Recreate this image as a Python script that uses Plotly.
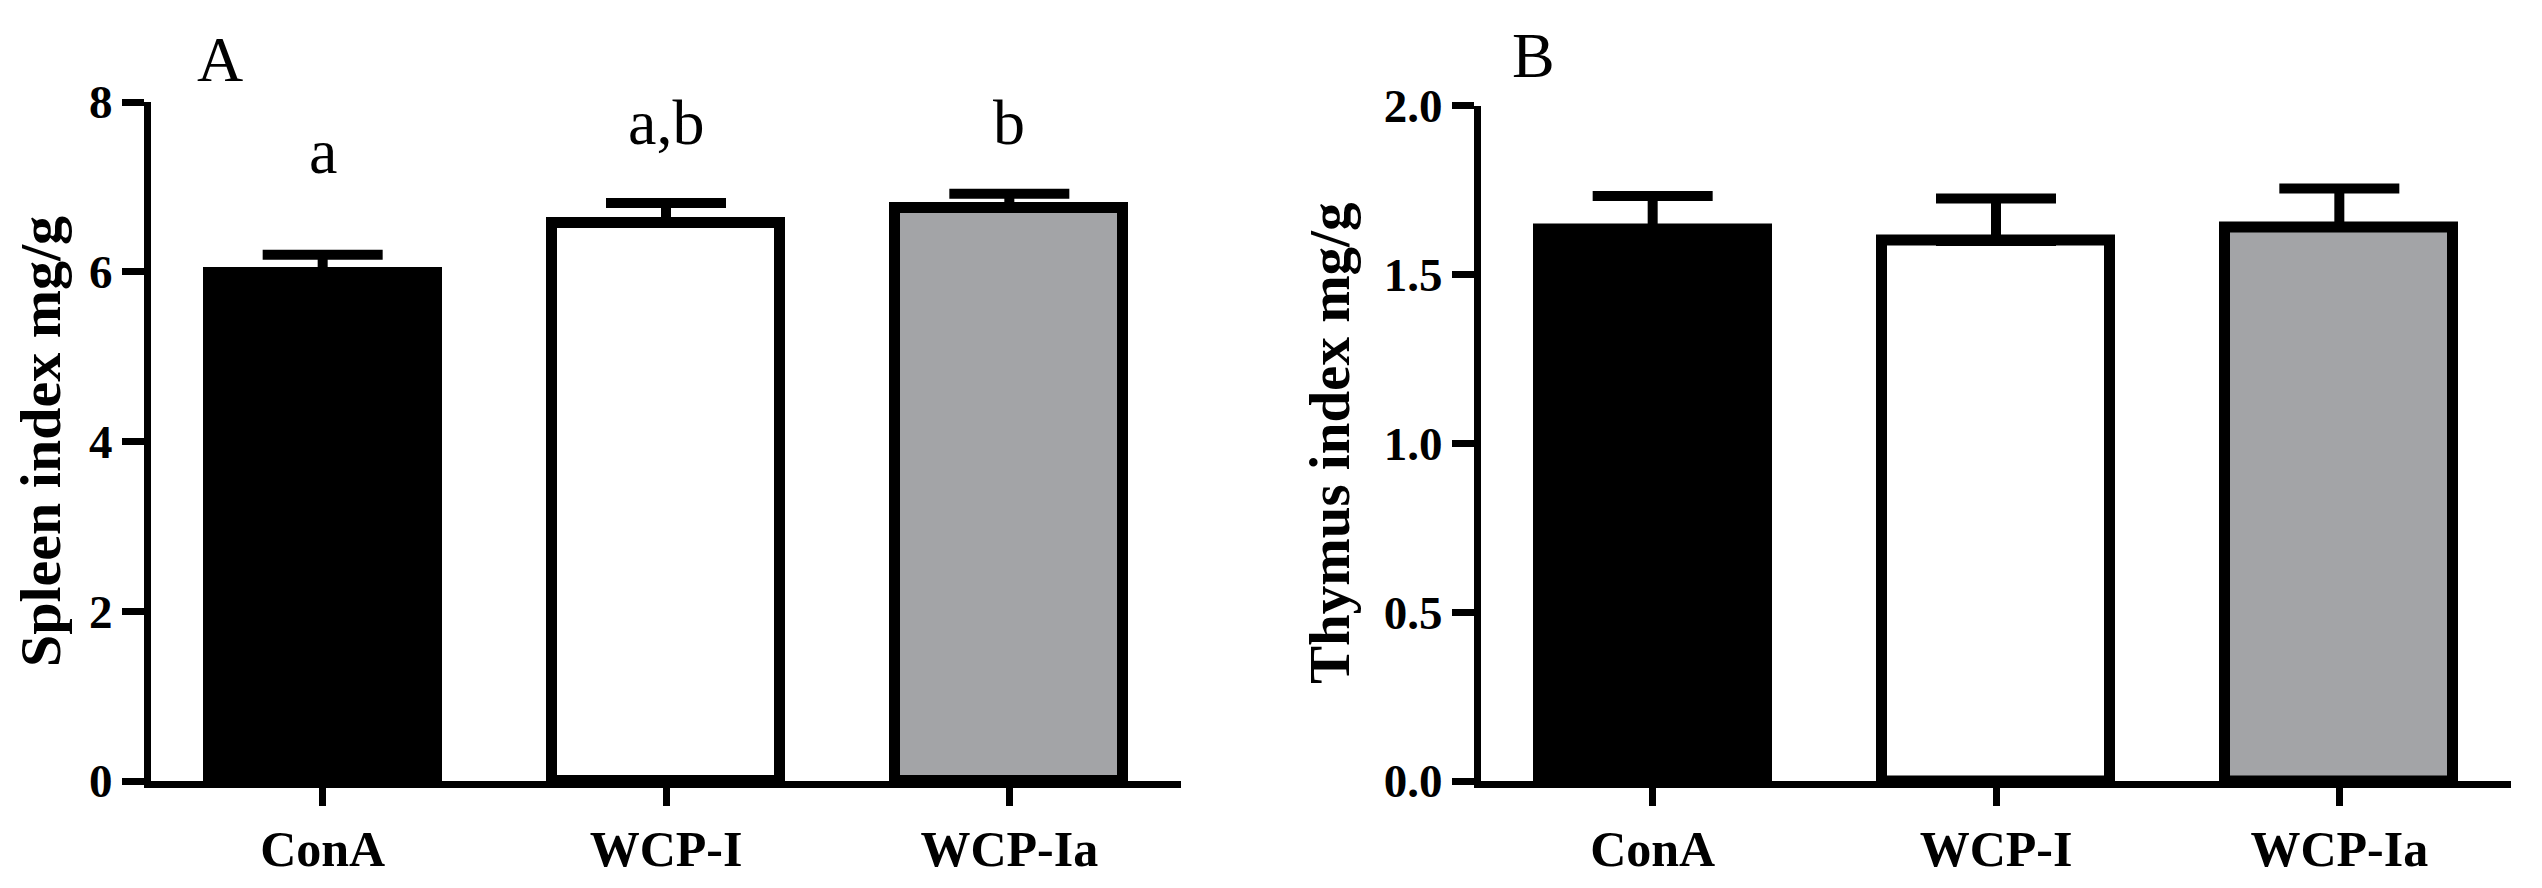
import plotly.graph_objects as go

# page is 2542x888; the html body adds an 8px margin, so shift everything
OFF = 8
W, H = 2542 - 2 * OFF, 888 - 2 * OFF

groups = ["ConA", "WCP-I", "WCP-Ia"]
spleen_mean = [5.98, 6.58, 6.75]
spleen_sem = [0.22, 0.23, 0.17]
thymus_mean = [1.632, 1.599, 1.640]
thymus_sem = [0.100, 0.126, 0.114]
spleen_letters = ["a", "a,b", "b"]
bar_colors = ["#000000", "#ffffff", "#a3a4a7"]

FONT = "Liberation Serif"

# plot area in page pixels (as measured on the reference)
L, R, T, B = 151 - OFF, 2511 - OFF, 102 - OFF, 781 - OFF
PW, PH = R - L, B - T

fig = go.Figure()

for xa, ya, vals, errs in [("x", "y", spleen_mean, spleen_sem),
                           ("x2", "y2", thymus_mean, thymus_sem)]:
    fig.add_trace(go.Bar(
        x=groups, y=vals, xaxis=xa, yaxis=ya, width=0.665,
        marker=dict(color=bar_colors, line=dict(color="black", width=11)),
        error_y=dict(type="data", array=errs, arrayminus=[0] * len(errs),
                     symmetric=False, color="black", thickness=10, width=60),
        showlegend=False,
    ))

def dx(p):
    return (p - OFF - L) / PW

def dy(p):
    return (B - (p - OFF)) / PH

axis_common = dict(
    showline=True, linecolor="black", linewidth=7,
    ticks="outside", tickcolor="black", tickwidth=7,
    showgrid=False, zeroline=False, automargin=False,
    tickfont=dict(family=FONT, size=47, color="black", weight="bold"),
)
cat_font = dict(family=FONT, size=50, color="black", weight="bold")

fig.update_layout(
    width=W, height=H,
    margin=dict(l=L, r=W - R, t=T, b=H - B, autoexpand=False),
    paper_bgcolor="white", plot_bgcolor="white",
    bargap=0,
    xaxis=dict(axis_common, domain=[0, dx(1181)], range=[-0.5, 2.5],
               ticklen=18, anchor="y", tickfont=cat_font),
    yaxis=dict(axis_common, domain=[0, 1], range=[0, 8],
               tickvals=[0, 2, 4, 6, 8], ticklen=22, anchor="x",
               title=dict(text="Spleen index mg/g", standoff=20,
                          font=dict(family=FONT, size=58, color="black", weight="bold"))),
    xaxis2=dict(axis_common, domain=[dx(1481), 1], range=[-0.5, 2.5],
                ticklen=18, anchor="y2", tickfont=cat_font),
    yaxis2=dict(axis_common, domain=[0, dy(105.5)], range=[0, 2],
                tickvals=[0, 0.5, 1.0, 1.5, 2.0], tickformat=".1f", ticklen=22,
                anchor="x2",
                title=dict(text="Thymus index mg/g", standoff=18,
                           font=dict(family=FONT, size=57, color="black", weight="bold"))),
)

letter_y = [7.42, 7.76, 7.76]
for g, t, ly in zip(groups, spleen_letters, letter_y):
    fig.add_annotation(x=g, y=ly, xref="x", yref="y", text=t, showarrow=False,
                       xanchor="center", yanchor="middle",
                       font=dict(family=FONT, size=64, color="black"))

for t, px, py in [("A", 220, 59), ("B", 1533, 55)]:
    fig.add_annotation(x=dx(px), y=dy(py), xref="paper", yref="paper",
                       text=t, showarrow=False, xanchor="center", yanchor="middle",
                       font=dict(family=FONT, size=64, color="black"))

fig.write_html("out.html")
